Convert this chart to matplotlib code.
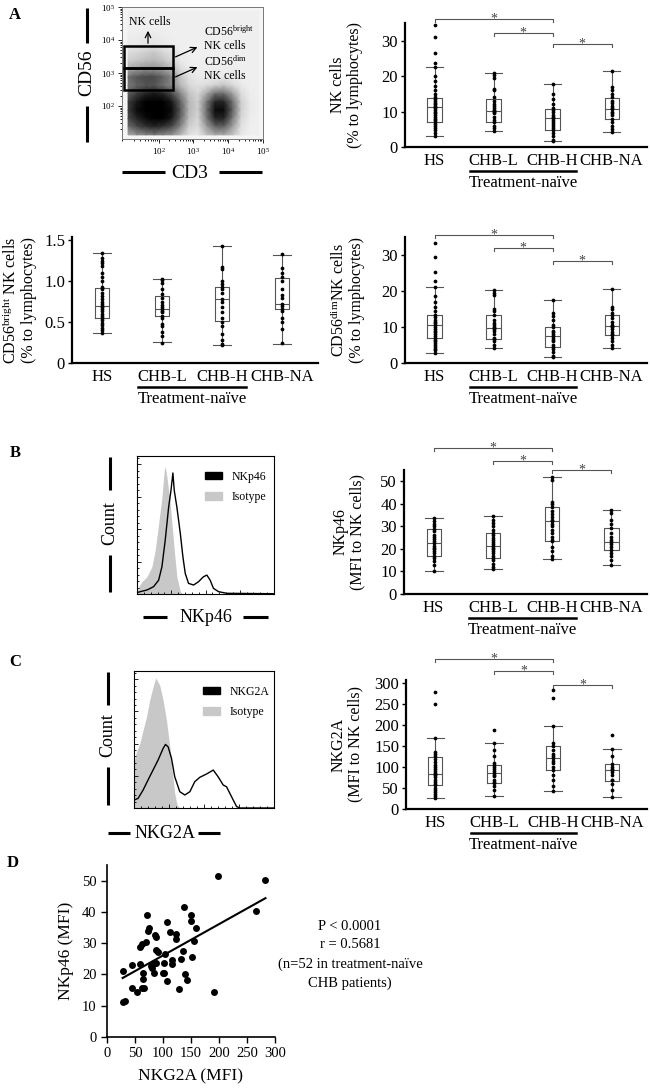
import numpy as np
import matplotlib
matplotlib.use('Agg')
import matplotlib.pyplot as plt
from matplotlib.lines import Line2D
from matplotlib.patches import Rectangle, Patch, FancyArrowPatch
from matplotlib.colors import LinearSegmentedColormap
from matplotlib.ticker import MultipleLocator, NullFormatter, LogLocator, LogFormatterMathtext
import matplotlib.transforms as mtransforms

plt.rcParams['font.family'] = ['Liberation Serif', 'DejaVu Serif']
plt.rcParams['mathtext.fontset'] = 'custom'
plt.rcParams['mathtext.rm'] = 'Liberation Serif'
plt.rcParams['mathtext.it'] = 'Liberation Serif:italic'
plt.rcParams['mathtext.bf'] = 'Liberation Serif:bold'

W, H = 650, 1089

groups = ['HS', 'CHB-L', 'CHB-H', 'CHB-NA']

# ---- box plot data: dots per group and box stats (median, q1, q3, whisker low, whisker high)
nk_dots = [
    [34.5, 31.0, 26.5, 23.7, 22.5, 20.0, 18.5, 17.2, 16.0, 15.0, 14.0, 13.5, 13.0, 12.5, 12.0, 11.6,
     11.3, 11.0, 10.5, 10.0, 9.6, 9.0, 8.5, 8.0, 7.5, 7.1, 6.5, 6.0, 5.5, 4.8, 4.0, 3.2],
    [20.9, 20.3, 19.5, 16.3, 16.0, 14.0, 13.0, 12.0, 11.5, 11.0, 10.5, 10.3, 10.0, 9.5, 8.5, 7.5,
     7.0, 6.0, 5.5, 4.4],
    [17.9, 15.0, 13.5, 12.0, 11.0, 10.5, 10.0, 9.0, 8.5, 8.1, 7.5, 7.0, 6.5, 6.0, 5.5, 4.9, 4.0,
     3.2, 2.0, 1.6],
    [21.4, 16.8, 16.0, 15.0, 14.0, 13.0, 12.5, 11.5, 11.0, 10.8, 10.0, 9.5, 9.0, 8.0, 7.0, 6.0,
     5.0, 4.1],
]
nk_med = [11.3, 10.3, 8.1, 10.8]
nk_q1 = [7.1, 7.0, 4.9, 8.0]
nk_q3 = [13.7, 13.6, 10.7, 13.8]
nk_lo = [3.2, 4.4, 1.6, 4.1]
nk_hi = [22.5, 20.9, 17.9, 21.4]

br_dots = [
    [1.34, 1.28, 1.25, 1.22, 1.18, 1.10, 1.05, 1.0, 0.93, 0.90, 0.86, 0.82, 0.78, 0.75, 0.72, 0.70,
     0.68, 0.66, 0.63, 0.60, 0.57, 0.55, 0.52, 0.49, 0.46, 0.43, 0.40, 0.37],
    [1.03, 1.01, 0.98, 0.90, 0.84, 0.80, 0.75, 0.71, 0.68, 0.66, 0.64, 0.62, 0.58, 0.55, 0.48, 0.45,
     0.38, 0.33, 0.25],
    [1.43, 1.17, 1.15, 1.0, 0.97, 0.93, 0.90, 0.85, 0.78, 0.75, 0.68, 0.62, 0.55, 0.50, 0.45, 0.35,
     0.28, 0.23, 0.22],
    [1.33, 1.16, 1.10, 1.05, 1.0, 0.90, 0.83, 0.80, 0.72, 0.70, 0.66, 0.63, 0.55, 0.50, 0.42, 0.24],
]
br_med = [0.697, 0.657, 0.778, 0.72]
br_q1 = [0.547, 0.58, 0.515, 0.657]
br_q3 = [0.912, 0.819, 0.932, 1.042]
br_lo = [0.365, 0.251, 0.223, 0.235]
br_hi = [1.346, 1.026, 1.427, 1.326]

dim_dots = [
    [33.2, 29.5, 25.4, 22.9, 21.1, 18.5, 17.0, 15.5, 14.5, 13.4, 12.8, 12.0, 11.5, 11.0, 10.6, 10.0,
     9.5, 9.0, 8.5, 8.0, 7.5, 7.0, 6.5, 6.0, 5.5, 5.0, 4.5, 4.0, 3.5, 2.9],
    [20.4, 19.5, 18.8, 15.0, 14.5, 13.2, 12.0, 11.0, 10.5, 10.0, 9.8, 9.5, 9.0, 8.0, 7.0, 6.6, 6.0,
     5.0, 4.3],
    [17.4, 14.0, 13.0, 12.0, 10.5, 10.1, 9.0, 8.5, 8.0, 7.5, 7.0, 6.5, 6.0, 5.0, 4.5, 4.0, 3.0, 2.0,
     1.6],
    [20.6, 15.5, 15.0, 14.0, 13.4, 12.5, 11.5, 10.5, 10.2, 10.0, 9.5, 8.5, 8.0, 7.8, 7.0, 6.0, 5.0,
     4.1],
]
dim_med = [10.6, 9.8, 7.5, 10.2]
dim_q1 = [7.0, 6.6, 4.5, 7.8]
dim_q3 = [13.4, 13.2, 10.1, 13.4]
dim_lo = [2.9, 4.3, 1.6, 4.1]
dim_hi = [21.1, 20.4, 17.4, 20.6]

p46_dots = [
    [33.7, 32.5, 31.0, 30.0, 29.0, 28.0, 26.0, 25.5, 24.5, 23.5, 22.4, 21.5, 20.5, 20.0, 19.0, 18.0,
     17.0, 16.0, 14.5, 13.0, 10.4],
    [34.4, 33.0, 31.5, 30.0, 28.5, 27.1, 26.0, 25.0, 24.0, 23.0, 22.0, 21.5, 20.5, 20.0, 19.0, 18.0,
     17.0, 16.0, 15.0, 13.5, 12.0, 11.0],
    [51.8, 50.5, 41.0, 40.0, 38.5, 37.0, 35.5, 34.0, 33.0, 32.2, 31.0, 30.0, 28.5, 27.0, 25.5, 24.0,
     23.4, 21.0, 19.0, 17.0, 15.6],
    [37.1, 36.0, 33.0, 31.0, 29.4, 27.0, 25.5, 24.0, 23.0, 22.0, 21.0, 19.4, 18.0, 17.0, 15.0, 12.8],
]
p46_med = [22.4, 21.5, 32.2, 22.9]
p46_q1 = [16.9, 16.0, 23.4, 19.4]
p46_q3 = [28.8, 27.1, 38.5, 29.4]
p46_lo = [10.4, 11.0, 15.6, 12.8]
p46_hi = [33.7, 34.4, 51.8, 37.1]

g2a_dots = [
    [278, 251, 168, 135, 130, 125, 120, 112, 105, 100, 95, 90, 85, 83, 80, 75, 70, 65, 60, 56, 50,
     45, 40, 35, 30, 26],
    [189, 157, 140, 125, 110, 104, 100, 95, 90, 86, 82, 78, 70, 65, 63, 55, 45, 30],
    [283, 263, 197, 158, 149, 140, 130, 125, 121, 115, 110, 100, 94, 80, 70, 55, 44],
    [177, 143, 125, 108, 100, 95, 92, 88, 80, 70, 68, 60, 45, 28],
]
g2a_med = [83, 86, 121, 92]
g2a_q1 = [56, 63, 94, 67]
g2a_q3 = [124, 104, 149, 108]
g2a_lo = [26, 30, 44, 28]
g2a_hi = [168, 157, 197, 143]

# significance brackets (group a, group b, height)
nk_brackets = [(1, 3, 36.1), (2, 3, 32.2), (3, 4, 29.2)]
dim_brackets = [(1, 3, 35.6), (2, 3, 32.0), (3, 4, 28.4)]
p46_brackets = [(1, 3, 64.7), (2, 3, 59.1), (3, 4, 55.1)]
g2a_brackets = [(1, 3, 356), (2, 3, 328), (3, 4, 296)]

# ---- flow plot: cell density (rows from CD56 10^5 down to 10^1, cols CD3 10^1 -> 10^5)
flow_density = [
    [0.02] * 16,
    [0.02] * 16,
    [0.02] * 16,
    [0.03, 0.03, 0.04, 0.04, 0.03, 0.02, 0.02, 0.02, 0.02, 0.02, 0.02, 0.02, 0.02, 0.02, 0.02, 0.02],
    [0.04, 0.05, 0.06, 0.06, 0.05, 0.03, 0.02, 0.02, 0.02, 0.02, 0.02, 0.02, 0.02, 0.02, 0.02, 0.02],
    [0.10, 0.12, 0.15, 0.18, 0.12, 0.08, 0.03, 0.02, 0.02, 0.02, 0.02, 0.02, 0.02, 0.02, 0.02, 0.02],
    [0.15, 0.18, 0.22, 0.25, 0.20, 0.12, 0.05, 0.02, 0.02, 0.02, 0.02, 0.02, 0.02, 0.02, 0.02, 0.02],
    [0.30, 0.35, 0.40, 0.40, 0.35, 0.25, 0.10, 0.04, 0.03, 0.03, 0.03, 0.03, 0.03, 0.02, 0.02, 0.02],
    [0.55, 0.65, 0.70, 0.70, 0.60, 0.45, 0.20, 0.08, 0.04, 0.04, 0.05, 0.05, 0.03, 0.02, 0.02, 0.02],
    [0.50, 0.60, 0.65, 0.65, 0.55, 0.45, 0.25, 0.12, 0.08, 0.10, 0.15, 0.20, 0.12, 0.05, 0.02, 0.02],
    [0.60, 0.75, 0.85, 0.90, 0.85, 0.70, 0.45, 0.20, 0.12, 0.30, 0.55, 0.55, 0.35, 0.10, 0.03, 0.02],
    [0.75, 0.90, 1.00, 1.00, 1.00, 0.90, 0.60, 0.25, 0.15, 0.50, 0.85, 0.85, 0.55, 0.15, 0.04, 0.02],
    [0.75, 0.95, 1.00, 1.00, 1.00, 0.95, 0.65, 0.25, 0.15, 0.55, 0.95, 0.95, 0.60, 0.15, 0.04, 0.02],
    [0.70, 0.85, 0.95, 1.00, 1.00, 0.90, 0.60, 0.22, 0.12, 0.50, 0.85, 0.85, 0.50, 0.12, 0.03, 0.02],
    [0.55, 0.70, 0.80, 0.85, 0.80, 0.70, 0.45, 0.15, 0.10, 0.35, 0.60, 0.60, 0.35, 0.08, 0.02, 0.02],
    [0.30, 0.40, 0.45, 0.50, 0.45, 0.40, 0.25, 0.08, 0.05, 0.20, 0.30, 0.30, 0.20, 0.05, 0.02, 0.02],
]
flow_xc = [1.125, 1.375, 1.625, 1.875, 2.125, 2.375, 2.625, 2.875,
           3.125, 3.375, 3.625, 3.875, 4.125, 4.375, 4.625, 4.875]
flow_yc = flow_xc[::-1]

# ---- histograms (x, y as fraction of axis)
p46_hist_x = [0, 0.024, 0.073, 0.121, 0.158, 0.182, 0.206, 0.231, 0.248, 0.262, 0.272, 0.291, 0.316,
              0.335, 0.352, 0.376, 0.413, 0.449, 0.485, 0.51, 0.534, 0.558, 0.595, 0.655, 1.0]
p46_hist_y = [0.01, 0.017, 0.029, 0.053, 0.10, 0.198, 0.39, 0.63, 0.75, 0.877, 0.75, 0.63, 0.44,
              0.27, 0.15, 0.077, 0.065, 0.089, 0.125, 0.137, 0.10, 0.041, 0.017, 0.005, 0.002]
p46_iso_x = [0, 0.012, 0.036, 0.073, 0.109, 0.133, 0.158, 0.182, 0.199, 0.206, 0.218, 0.238, 0.255,
             0.272, 0.291, 0.316, 0.335, 1.0]
p46_iso_y = [0, 0.053, 0.089, 0.125, 0.198, 0.318, 0.51, 0.70, 0.896, 0.925, 0.85, 0.70, 0.51,
             0.318, 0.125, 0.017, 0, 0]

g2a_hist_x = [0, 0.029, 0.065, 0.1, 0.136, 0.172, 0.208, 0.225, 0.244, 0.268, 0.291, 0.327, 0.363,
              0.399, 0.434, 0.470, 0.518, 0.566, 0.601, 0.637, 0.661, 0.697, 0.733, 0.757, 1.0]
g2a_hist_y = [0.058, 0.07, 0.131, 0.204, 0.277, 0.35, 0.435, 0.464, 0.446, 0.362, 0.228, 0.119,
              0.095, 0.119, 0.192, 0.224, 0.248, 0.277, 0.228, 0.168, 0.155, 0.082, 0.01, 0, 0]
g2a_iso_x = [0, 0.017, 0.041, 0.065, 0.089, 0.112, 0.136, 0.155, 0.184, 0.208, 0.232, 0.256, 0.275,
             0.291, 0.308, 0.327, 1.0]
g2a_iso_y = [0.337, 0.41, 0.47, 0.568, 0.665, 0.787, 0.883, 0.95, 0.896, 0.787, 0.64, 0.446, 0.253,
             0.107, 0.022, 0, 0]

# ---- correlation panel D
nkg2a_mfi = [27.9, 28.5, 32, 44, 44, 53.5, 58.2, 59.4, 61.8, 62.4, 64.2, 64.2, 66.5, 69.5, 71.9,
             73, 75.4, 79, 81, 82, 84.4, 85, 88, 87.3, 86.7, 91, 99.8, 101.6, 103.4, 101, 107, 108,
             113, 116, 116, 123, 123.5, 129, 132.5, 136, 137, 138.6, 143.3, 150, 150, 151, 155.7,
             158.5, 191, 198, 266, 283]
nkp46_mfi = [21.0, 11.2, 11.4, 23.0, 15.7, 14.5, 28.7, 23.4, 29.6, 15.6, 20.4, 18.6, 15.7, 30.5,
             39.0, 34.0, 34.8, 22.7, 22.0, 23.4, 20.4, 32.7, 32.1, 27.7, 23.6, 27.3, 20.6, 23.6,
             26.6, 20.4, 36.7, 17.8, 33.5, 24.7, 23.4, 33.0, 31.2, 15.2, 24.8, 27.4, 41.7, 20.1,
             18.1, 38.9, 37.1, 25.5, 30.7, 34.7, 14.5, 51.6, 40.3, 50.3]

fig = plt.figure(figsize=(W / 100, H / 100), dpi=100)


def add_ax(l, t, r, b):
    return fig.add_axes([l / W, 1 - b / H, (r - l) / W, (b - t) / H])


def fig_line(x0, y0, x1, y1, lw=2.2):
    fig.add_artist(Line2D([x0 / W, x1 / W], [1 - y0 / H, 1 - y1 / H], color='k', lw=lw,
                          transform=fig.transFigure, solid_capstyle='butt'))


def fig_text(x, y, s, **kw):
    fig.text(x / W, 1 - y / H, s, **kw)


def box_panel(rect, dots, med, q1, q3, lo, hi, ymax, yticks, ytl, ylabel, brackets, lab_off=40):
    ax = add_ax(*rect)
    wpx = rect[2] - rect[0]
    hpx = rect[3] - rect[1]
    pos = [1, 2, 3, 4]
    stats = [dict(med=m, q1=a, q3=b, whislo=l, whishi=h)
             for m, a, b, l, h in zip(med, q1, q3, lo, hi)]
    lp = dict(color='#555555', lw=0.8)
    ax.bxp(stats, positions=pos, widths=0.24, capwidths=0.3, showfliers=False,
           boxprops=lp, whiskerprops=lp, capprops=lp, medianprops=lp)
    for p, d in zip(pos, dots):
        ax.plot([p] * len(d), d, 'o', ms=2.7, color='k', mec='none', zorder=3, clip_on=False)
    ax.set_xlim(0.5, 4.6)
    ax.set_ylim(0, ymax)
    ax.set_yticks(yticks)
    ax.set_yticklabels(ytl)
    ax.set_xticks(pos)
    ax.set_xticklabels(groups)
    ax.tick_params(axis='x', length=0, pad=4, labelsize=12)
    ax.tick_params(axis='y', length=3, width=1, labelsize=12, pad=2)
    for s in ['top', 'right']:
        ax.spines[s].set_visible(False)
    for s in ['left', 'bottom']:
        ax.spines[s].set_linewidth(1.6)
    ax.set_ylabel(ylabel, fontsize=11.5, linespacing=1.05)
    ax.yaxis.set_label_coords(-lab_off / wpx, 0.5)
    tr = mtransforms.blended_transform_factory(ax.transData, ax.transAxes)
    ax.plot([1.6, 3.4], [-24 / hpx] * 2, color='k', lw=1.8, transform=tr, clip_on=False)
    ax.text(2.5, -36 / hpx, 'Treatment-naïve', transform=tr, ha='center', va='center', fontsize=12)
    tick = 3 * ymax / hpx
    for i, j, yb in brackets:
        ax.plot([i, i, j, j], [yb - tick, yb, yb, yb - tick], color='#555555', lw=0.8, clip_on=False)
        ax.text((i + j) / 2, yb, '*', ha='center', va='center', fontsize=10, color='#444444')
    return ax


def hist_panel(rect, hx, hy, ix, iy, name):
    ax = add_ax(*rect)
    ax.fill_between(ix, iy, color='#c8c8c8', lw=0)
    ax.plot(hx, hy, color='k', lw=1.0)
    ax.set_xlim(0, 1)
    ax.set_ylim(0, 1)
    ax.xaxis.set_major_locator(MultipleLocator(0.25))
    ax.xaxis.set_minor_locator(MultipleLocator(0.05))
    ax.yaxis.set_major_locator(MultipleLocator(0.235))
    ax.yaxis.set_minor_locator(MultipleLocator(0.047))
    ax.tick_params(which='both', direction='in', labelleft=False, labelbottom=False, width=0.6)
    ax.tick_params(which='major', length=3)
    ax.tick_params(which='minor', length=1.5)
    for s in ax.spines.values():
        s.set_linewidth(0.8)
    handles = [Patch(color='k', label=name), Patch(color='#c8c8c8', label='Isotype')]
    ax.legend(handles=handles, loc='upper left', bbox_to_anchor=(0.42, 0.97), frameon=False,
              fontsize=8.5, handlelength=1.4, handleheight=0.6, labelspacing=0.7, handletextpad=0.8)
    return ax


# ---- panel A flow plot
axf = add_ax(122, 7, 263, 139)
cmap = LinearSegmentedColormap.from_list('flow', ['#f4f4f4', '#000000'])
axf.set_facecolor('#f4f4f4')
axf.pcolormesh(10 ** np.array(flow_xc), 10 ** np.array(flow_yc), np.array(flow_density),
               cmap=cmap, vmin=0, vmax=1, shading='gouraud')
axf.set_xscale('log')
axf.set_yscale('log')
axf.set_xlim(10 ** 0.95, 1e5)
axf.set_ylim(10, 1e5)
axf.set_xticks([1e2, 1e3, 1e4, 1e5])
axf.set_yticks([1e2, 1e3, 1e4, 1e5])
axf.xaxis.set_major_formatter(LogFormatterMathtext())
axf.yaxis.set_major_formatter(LogFormatterMathtext())
axf.xaxis.set_minor_locator(LogLocator(subs=np.arange(2, 10)))
axf.yaxis.set_minor_locator(LogLocator(subs=np.arange(2, 10)))
axf.xaxis.set_minor_formatter(NullFormatter())
axf.yaxis.set_minor_formatter(NullFormatter())
axf.tick_params(which='both', labelsize=6.5, width=0.6, pad=2, direction='out')
axf.tick_params(which='major', length=3)
axf.tick_params(which='minor', length=1.5)
for s in axf.spines.values():
    s.set_linewidth(0.7)
    s.set_color('#777777')
# gates
axf.add_patch(Rectangle((10 ** 1.0, 10 ** 3.15), 10 ** 2.42 - 10 ** 1.0, 10 ** 3.82 - 10 ** 3.15,
                        fill=False, lw=1.8, ec='k', zorder=4))
axf.add_patch(Rectangle((10 ** 1.0, 10 ** 2.48), 10 ** 2.42 - 10 ** 1.0, 10 ** 3.15 - 10 ** 2.48,
                        fill=False, lw=1.8, ec='k', zorder=4))
arw = dict(arrowstyle='->', lw=0.9, color='k', mutation_scale=10)
fig.add_artist(FancyArrowPatch((148 / W, 1 - 46 / H), (148 / W, 1 - 28 / H),
                               transform=fig.transFigure, **arw))
fig.add_artist(FancyArrowPatch((173 / W, 1 - 58 / H), (200 / W, 1 - 46 / H),
                               transform=fig.transFigure, **arw))
fig.add_artist(FancyArrowPatch((173 / W, 1 - 78 / H), (200 / W, 1 - 66 / H),
                               transform=fig.transFigure, **arw))
fig_text(150, 22, 'NK cells', ha='center', va='center', fontsize=8.5)
fig_text(204, 32, 'CD56$^{\\mathrm{bright}}$', ha='left', va='center', fontsize=8.5)
fig_text(204, 46, 'NK cells', ha='left', va='center', fontsize=8.5)
fig_text(204, 62, 'CD56$^{\\mathrm{dim}}$', ha='left', va='center', fontsize=8.5)
fig_text(204, 76, 'NK cells', ha='left', va='center', fontsize=8.5)
# CD56 / CD3 axis labels with flanking bars
fig_line(87, 8, 87, 43)
fig_text(87, 73, 'CD56', ha='center', va='center', rotation=90, fontsize=14)
fig_line(87, 106, 87, 142)
fig_line(122, 172, 165, 172)
fig_text(190, 173, 'CD3', ha='center', va='center', fontsize=14)
fig_line(219, 172, 262, 172)

# ---- box plots
box_panel((405, 23, 647, 147), nk_dots, nk_med, nk_q1, nk_q3, nk_lo, nk_hi, 35,
          [0, 10, 20, 30], ['0', '10', '20', '30'], 'NK cells\n(% to lymphocytes)', nk_brackets,
          lab_off=42)
box_panel((72, 237, 318, 363), br_dots, br_med, br_q1, br_q3, br_lo, br_hi, 1.54,
          [0, 0.5, 1.0, 1.5], ['0', '0.5', '1.0', '1.5'],
          'CD56$^{\\mathrm{bright}}$ NK cells\n(% to lymphocytes)', [], lab_off=35)
box_panel((405, 237, 647, 363), dim_dots, dim_med, dim_q1, dim_q3, dim_lo, dim_hi, 35,
          [0, 10, 20, 30], ['0', '10', '20', '30'],
          'CD56$^{\\mathrm{dim}}$NK cells\n(% to lymphocytes)', dim_brackets, lab_off=40)
box_panel((404, 470, 647, 594), p46_dots, p46_med, p46_q1, p46_q3, p46_lo, p46_hi, 55,
          [0, 10, 20, 30, 40, 50], ['0', '10', '20', '30', '40', '50'],
          'NKp46\n(MFI to NK cells)', p46_brackets, lab_off=39)
box_panel((406, 680, 647, 809), g2a_dots, g2a_med, g2a_q1, g2a_q3, g2a_lo, g2a_hi, 307,
          [0, 50, 100, 150, 200, 250, 300], ['0', '50', '100', '150', '200', '250', '300'],
          'NKG2A\n(MFI to NK cells)', g2a_brackets, lab_off=43)

# ---- histograms B and C
hist_panel((137, 456, 274, 594), p46_hist_x, p46_hist_y, p46_iso_x, p46_iso_y, 'NKp46')
fig_line(110, 457, 110, 490)
fig_text(110, 523, 'Count', ha='center', va='center', rotation=90, fontsize=13)
fig_line(110, 555, 110, 592)
fig_line(143, 617, 167, 617)
fig_text(206, 618, 'NKp46', ha='center', va='center', fontsize=13)
fig_line(243, 617, 268, 617)

hist_panel((134, 671, 274, 808), g2a_hist_x, g2a_hist_y, g2a_iso_x, g2a_iso_y, 'NKG2A')
fig_line(108, 672, 108, 705)
fig_text(108, 735, 'Count', ha='center', va='center', rotation=90, fontsize=13)
fig_line(108, 767, 108, 805)
fig_line(108, 833, 130, 833)
fig_text(165, 834, 'NKG2A', ha='center', va='center', fontsize=13)
fig_line(198, 833, 220, 833)

# ---- panel D scatter
axs = add_ax(107, 865, 275, 1037)
axs.plot(nkg2a_mfi, nkp46_mfi, 'o', ms=5, color='k', mec='none', clip_on=False)
k, c = np.polyfit(nkg2a_mfi, nkp46_mfi, 1)
xl = np.array([min(nkg2a_mfi), max(nkg2a_mfi)])
axs.plot(xl, k * xl + c, color='k', lw=1.5)
axs.set_xlim(0, 300)
axs.set_ylim(0, 55)
axs.set_xticks([0, 50, 100, 150, 200, 250, 300])
axs.set_yticks([0, 10, 20, 30, 40, 50])
axs.tick_params(labelsize=10.5, length=4, width=1)
for s in ['top', 'right']:
    axs.spines[s].set_visible(False)
for s in ['left', 'bottom']:
    axs.spines[s].set_linewidth(1.2)
axs.set_xlabel('NKG2A (MFI)', fontsize=12.5, labelpad=6)
axs.set_ylabel('NKp46 (MFI)', fontsize=12.5, labelpad=6)
for i, s in enumerate(['P < 0.0001', 'r = 0.5681', '(n=52 in treatment-naïve', 'CHB patients)']):
    fig_text(350, 926 + 19 * i, s, ha='center', va='center', fontsize=10.5)

# ---- panel letters
for letter, x, y in [('A', 15, 15), ('B', 15, 453), ('C', 15, 662), ('D', 13, 863)]:
    fig_text(x, y, letter, ha='center', va='center', fontsize=12, fontweight='bold')

fig.savefig('out.png', dpi=100)
